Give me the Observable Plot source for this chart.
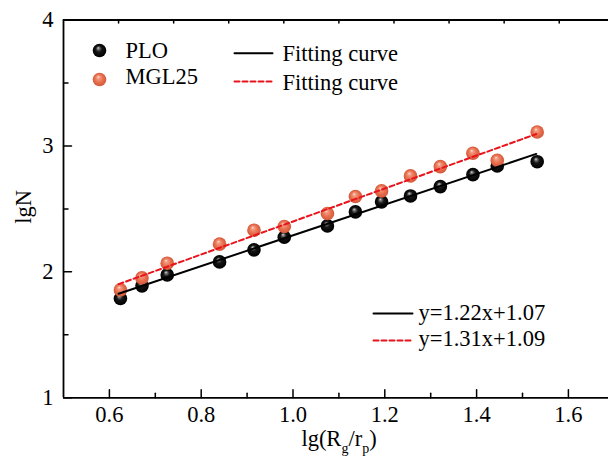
<!DOCTYPE html>
<html><head><meta charset="utf-8">
<script src="https://cdn.jsdelivr.net/npm/d3@7"></script>
<script src="https://cdn.jsdelivr.net/npm/@observablehq/plot@0.6"></script>
<style>html,body{margin:0;padding:0;background:#fff;overflow:hidden;} svg{display:block;}</style>
</head><body><div id="chart"></div>
<script>
// ---- data ----
const xValues   = [0.624, 0.671, 0.726, 0.840, 0.915, 0.981, 1.075, 1.136, 1.193, 1.256, 1.321, 1.392, 1.445, 1.532];
const ploValues = [1.788, 1.889, 1.976, 2.079, 2.175, 2.275, 2.365, 2.476, 2.556, 2.603, 2.677, 2.772, 2.841, 2.875];
const mglValues = [1.857, 1.952, 2.069, 2.220, 2.331, 2.360, 2.463, 2.598, 2.643, 2.762, 2.836, 2.942, 2.886, 3.111];
const seriesNames = ["PLO", "MGL25"];
const fitSlopes = [1.22, 1.31];
const fitIntercepts = [1.07, 1.09];
const fitRange = [0.62, 1.53];
const fitLabels = ["y=1.22x+1.07", "y=1.31x+1.09"];
const xMajor = [0.6, 0.8, 1.0, 1.2, 1.4, 1.6];
const xMinor = [0.7, 0.9, 1.1, 1.3, 1.5];
const xTopTicks = [0.62, 0.74, 0.86, 0.98, 1.10, 1.22, 1.34, 1.46, 1.58];
const yMajor = [1, 2, 3, 4];
const yMinor = [1.5, 2.5, 3.5];
const xDomain = [0.5, 1.7];
const yDomain = [1, 4];

const ploData = xValues.map((x, i) => ({x, y: ploValues[i]}));
const mglData = xValues.map((x, i) => ({x, y: mglValues[i]}));
const fitData = (k) => fitRange.map(x => ({x, y: fitSlopes[k] * x + fitIntercepts[k]}));

const FONT = "'Liberation Serif', 'Times New Roman', serif";
const FS = 22.5;
const tickShape = {draw(context, length) { context.moveTo(0, 0); context.lineTo(0, -length); }};
const RED = "#e8141c";

const svg = Plot.plot({
  width: 608, height: 462,
  marginLeft: 63, marginRight: -6, marginTop: 19.5, marginBottom: 65,
  x: {domain: xDomain, range: [63, 613.8]},
  y: {domain: yDomain, range: [397.3, 19.5]},
  style: {fontFamily: FONT, fontSize: FS + "px", color: "#000", background: "#fff"},
  marks: [
    // frame
    Plot.ruleY([yDomain[0], yDomain[1]], {stroke: "#000", strokeWidth: 1.8}),
    Plot.ruleX([xDomain[0], xDomain[1]], {stroke: "#000", strokeWidth: 1.8}),
    // inward ticks
    Plot.vector(xMajor, {x: d => d, y: yDomain[0], length: 8, rotate: 0, anchor: "start", shape: tickShape, stroke: "#000", strokeWidth: 1.5}),
    Plot.vector(xMinor, {x: d => d, y: yDomain[0], length: 4.5, rotate: 0, anchor: "start", shape: tickShape, stroke: "#000", strokeWidth: 1.5}),
    Plot.vector(xTopTicks, {x: d => d, y: yDomain[1], length: 3, rotate: 180, anchor: "start", shape: tickShape, stroke: "#000", strokeWidth: 1.5}),
    Plot.vector(yMajor, {x: xDomain[0], y: d => d, length: 8, rotate: 90, anchor: "start", shape: tickShape, stroke: "#000", strokeWidth: 1.5}),
    Plot.vector(yMinor, {x: xDomain[0], y: d => d, length: 4.5, rotate: 90, anchor: "start", shape: tickShape, stroke: "#000", strokeWidth: 1.5}),
    // tick labels
    Plot.axisX({ticks: xMajor, tickSize: 0, tickPadding: 9, tickFormat: d => d.toFixed(1), label: null, fontSize: FS, fontFamily: FONT}),
    Plot.axisY({ticks: yMajor, tickSize: 0, tickPadding: 10, tickFormat: d => String(d), label: null, fontSize: FS, fontFamily: FONT}),
    // axis titles
    Plot.text(["lg(Rg/rp)"], {frameAnchor: "bottom", dy: 48, lineAnchor: "bottom", fontSize: FS, fontFamily: FONT}),
    Plot.text(["lgN"], {frameAnchor: "left", rotate: -90, dx: -39.5, dy: 15, fontSize: FS, fontFamily: FONT}),
    // data
    Plot.dot(ploData, {x: "x", y: "y", r: 6.8, fill: "url(#sphBlack)"}),
    Plot.dot(mglData, {x: "x", y: "y", r: 6.8, fill: "url(#sphRed)"}),
    Plot.line(fitData(0), {x: "x", y: "y", stroke: "#000", strokeWidth: 2}),
    Plot.line(fitData(1), {x: "x", y: "y", stroke: RED, strokeWidth: 2, strokeDasharray: "5,3"}),
    // legend: series
    Plot.dot([0], {frameAnchor: "top-left", dx: 36, dy: 30.5, r: 6.8, fill: "url(#sphBlack)"}),
    Plot.dot([0], {frameAnchor: "top-left", dx: 36, dy: 59.5, r: 6.8, fill: "url(#sphRed)"}),
    Plot.text([seriesNames[0]], {frameAnchor: "top-left", dx: 62, dy: 30.5, textAnchor: "start", lineAnchor: "middle", fontSize: FS, fontFamily: FONT}),
    Plot.text([seriesNames[1]], {frameAnchor: "top-left", dx: 62, dy: 57, textAnchor: "start", lineAnchor: "middle", fontSize: FS, fontFamily: FONT}),
    // legend: fitting curves
    Plot.vector([0], {frameAnchor: "top-left", dx: 171, dy: 33.2, length: 38, rotate: 90, anchor: "start", shape: tickShape, stroke: "#000", strokeWidth: 2}),
    Plot.vector([0], {frameAnchor: "top-left", dx: 171, dy: 61.5, length: 38, rotate: 90, anchor: "start", shape: tickShape, stroke: RED, strokeWidth: 2, strokeDasharray: "5,3"}),
    Plot.text(["Fitting curve"], {frameAnchor: "top-left", dx: 219, dy: 33.4, textAnchor: "start", lineAnchor: "middle", fontSize: FS, fontFamily: FONT}),
    Plot.text(["Fitting curve"], {frameAnchor: "top-left", dx: 219, dy: 62.4, textAnchor: "start", lineAnchor: "middle", fontSize: FS, fontFamily: FONT}),
    // legend: equations
    Plot.vector([0], {frameAnchor: "top-left", dx: 310, dy: 293.5, length: 39, rotate: 90, anchor: "start", shape: tickShape, stroke: "#000", strokeWidth: 2}),
    Plot.vector([0], {frameAnchor: "top-left", dx: 310, dy: 320.5, length: 39, rotate: 90, anchor: "start", shape: tickShape, stroke: RED, strokeWidth: 2, strokeDasharray: "5,3"}),
    Plot.text([fitLabels[0]], {frameAnchor: "top-left", dx: 355, dy: 292.4, textAnchor: "start", lineAnchor: "middle", fontSize: FS, fontFamily: FONT}),
    Plot.text([fitLabels[1]], {frameAnchor: "top-left", dx: 355, dy: 319.1, textAnchor: "start", lineAnchor: "middle", fontSize: FS, fontFamily: FONT})
  ]
});

// sphere gradients
const defs = d3.select(svg).insert("defs", ":first-child");
function sphere(id, stops) {
  const g = defs.append("radialGradient").attr("id", id)
    .attr("cx", 0.5).attr("cy", 0.5).attr("r", 0.5).attr("fx", 0.4).attr("fy", 0.3);
  stops.forEach(([o, c]) => g.append("stop").attr("offset", o).attr("stop-color", c));
}
sphere("sphBlack", [[0, "#e6e6e6"], [0.16, "#7a7a7a"], [0.45, "#151515"], [1, "#000"]]);
sphere("sphRed", [[0, "#fde2d6"], [0.22, "#f29a80"], [0.6, "#e8704f"], [1, "#d4573a"]]);

// subscripts in the x-axis title
d3.select(svg).selectAll("text").filter(function() { return this.textContent === "lg(Rg/rp)"; })
  .each(function() {
    const t = d3.select(this);
    t.text(null);
    t.append("tspan").text("lg(R");
    t.append("tspan").attr("dy", 7).attr("font-size", 14).text("g");
    t.append("tspan").attr("dy", -7).text("/r");
    t.append("tspan").attr("dy", 7).attr("font-size", 14).text("p");
    t.append("tspan").attr("dy", -7).text(")");
  });

document.getElementById("chart").appendChild(svg);
</script>
</body></html>
